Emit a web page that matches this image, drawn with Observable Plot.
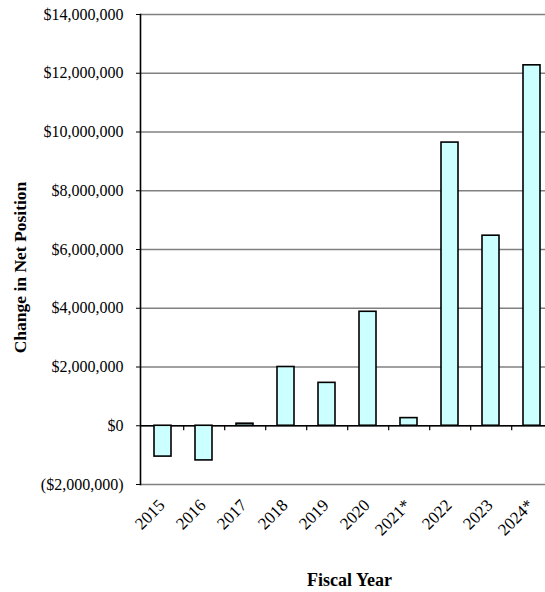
<!DOCTYPE html>
<html>
<head>
<meta charset="utf-8">
<script src="https://cdn.jsdelivr.net/npm/d3@7"></script>
<script src="https://cdn.jsdelivr.net/npm/@observablehq/plot@0.6"></script>
<style>
  html, body { margin: 0; padding: 0; background: #fff; overflow: hidden; }
  #chart { width: 545px; height: 592px; overflow: hidden; }
  #chart svg { max-width: none !important; height: 592px !important; }
</style>
</head>
<body>
<div id="chart"></div>
<script>
const years = ["2015", "2016", "2017", "2018", "2019", "2020", "2021*", "2022", "2023", "2024*"];
const changes = [-1050000, -1180000, 70000, 2000000, 1460000, 3880000, 260000, 9640000, 6470000, 12270000];
const yTicks = [-2000000, 0, 2000000, 4000000, 6000000, 8000000, 10000000, 12000000, 14000000];
const yTitle = "Change in Net Position";
const xTitle = "Fiscal Year";

const data = years.map((year, i) => ({year, value: changes[i]}));
const fmt = d3.format(",");
const money = d => d < 0 ? `($${fmt(-d)})` : `$${fmt(d)}`;
const serif = "'Liberation Serif', 'Times New Roman', serif";

const W = 555, H = 592, ML = 140, MR = 1, MT = 14, MB = 108;
const step = (W - ML - MR) / years.length;

const chart = Plot.plot({
  width: W,
  height: H,
  marginLeft: ML,
  marginRight: MR,
  marginTop: MT,
  marginBottom: MB,
  style: {fontFamily: serif, fontSize: "16px", color: "black", background: "white"},
  x: {domain: years, paddingInner: 0.59, paddingOuter: 0.295, label: null},
  y: {domain: [-2000000, 14000000], label: null},
  marks: [
    Plot.gridY(yTicks, {stroke: "#808080", strokeOpacity: 1, strokeWidth: 1.5}),
    Plot.ruleY([0], {stroke: "black", strokeWidth: 1.5}),
    Plot.ruleX(years.slice(0, -1), {x: d => d, y1: 0, y2: 0, insetBottom: -5, dx: step / 2, stroke: "black", strokeWidth: 1.2}),
    Plot.barY(data, {x: "year", y: "value", fill: "#ccffff", stroke: "black", strokeWidth: 1.6}),
    Plot.frame({anchor: "left", stroke: "black", strokeWidth: 1.6}),
    Plot.axisY(yTicks, {tickSize: 4, tickPadding: 13, tickFormat: money, fontSize: 16, label: null}),
    Plot.axisX({tickSize: 0, tickRotate: -45, tickPadding: 18, dx: -1, fontSize: 17, label: null}),
    Plot.text([yTitle], {frameAnchor: "left", textAnchor: "middle", lineAnchor: "middle", rotate: -90, dx: -120, dy: 18, fontWeight: "bold", fontSize: 17.5}),
    Plot.text([xTitle], {frameAnchor: "bottom", textAnchor: "middle", lineAnchor: "middle", dx: 2, dy: 96, fontWeight: "bold", fontSize: 18})
  ]
});
document.getElementById("chart").appendChild(chart);
</script>
</body>
</html>
